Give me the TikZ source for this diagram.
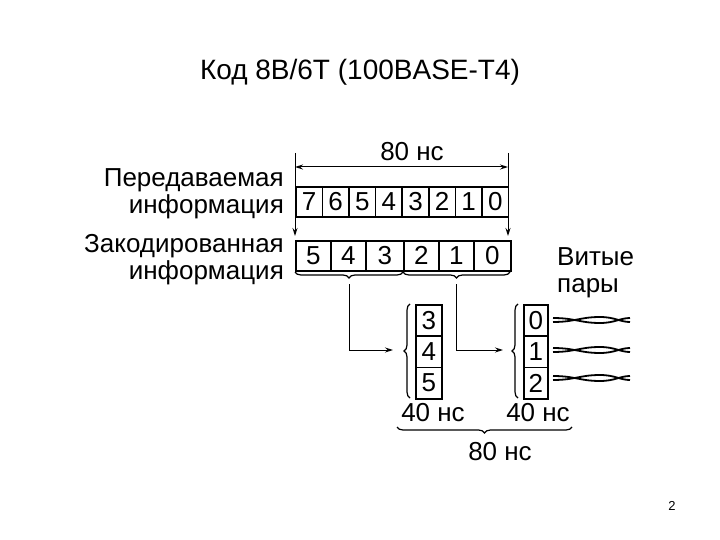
\documentclass[tikz,border=0pt]{standalone}
\usepackage{fontspec}
\setmainfont{Liberation Sans}
\usetikzlibrary{decorations.pathreplacing,arrows.meta}
\begin{document}
\begin{tikzpicture}[x=1pt,y=-1pt,
  lbl/.style={font=\fontsize{26}{27}\selectfont,inner sep=0pt},
  cell/.style={draw,line width=1.6pt,font=\fontsize{26}{27}\selectfont,inner sep=0pt,anchor=north west},
  brc/.style={decorate,decoration={brace,amplitude=6pt},line width=1.2pt},
  con/.style={line width=1pt,-{Stealth[length=8pt,width=5pt]}}]
\useasboundingbox (0,0) rectangle (720,540);
\node[font=\fontsize{28}{30}\selectfont] (title) at (360,72) {Код 8B/6T (100BASE-T4)};
\node[font=\fontsize{13}{15}\selectfont] (pg) at (672,506) {2};
% top row
\foreach \d [count=\i from 0] in {7,6,5,4,3,2,1,0}{
  \node[cell,minimum width=26.6pt,minimum height=30pt] (t\i) at (295+26.6*\i,186) {\d};}
% bottom row
\foreach \a/\b/\d [count=\i from 0] in {295/330/5,330/365/4,365/403/3,403/438/2,438/473/1,473/510/0}{
  \node[cell,minimum width=\b pt-\a pt,minimum height=30pt] (b\i) at (\a,240) {\d};}
% time marks
\coordinate (l1) at (295,153); \coordinate (l2) at (295,236);
\coordinate (r1) at (508,153); \coordinate (r2) at (508,236);
\draw[con] (l1) -- (l2);
\draw[con] (r1) -- (r2);
\draw[line width=1pt,{Stealth[length=8pt,width=5pt]}-{Stealth[length=8pt,width=5pt]}] (295,167) -- (508,167);
\node[lbl] (t80) at (412,152) {80 нс};
\node[lbl,align=right,anchor=east] (lab1) at (284,194) {Передаваемая\\информация};
\node[lbl,align=right,anchor=east] (lab2) at (284,260) {Закодированная\\информация};
\node[lbl,align=left,anchor=west] (lab3) at (557,273) {Витые\\пары};
% braces
\draw[brc] (403,272) -- (295,272) coordinate[midway] (bl);
\draw[brc] (510,272) -- (403,272) coordinate[midway] (br);
\coordinate (blt) at (349,284); \coordinate (brt) at (456,284);
% columns
\foreach \d [count=\i from 0] in {3,4,5}{
  \node[cell,minimum width=26pt,minimum height=31.3pt] (c\i) at (415,304+31.3*\i) {\d};}
\foreach \d [count=\i from 0] in {0,1,2}{
  \node[cell,minimum width=24pt,minimum height=31.3pt] (d\i) at (523,304+31.3*\i) {\d};}
\draw[brc] (410,398) -- (410,304);
\draw[brc] (518,398) -- (518,304);
\draw[con] (blt) |- (393,350);
\draw[con] (brt) |- (503,350);
% twisted pairs
\foreach \y in {320,350,378}{
  \draw[line width=1.8pt] (553,\y-2) .. controls (575,\y-2) and (580,\y+3) .. (600,\y+3) .. controls (615,\y+3) and (620,\y-2) .. (630,\y-2);
  \draw[line width=1.8pt] (553,\y+2) .. controls (575,\y+2) and (580,\y-3) .. (600,\y-3) .. controls (615,\y-3) and (620,\y+2) .. (630,\y+2);}
\node[lbl] (f1) at (433,413) {40 нс};
\node[lbl] (f2) at (538,413) {40 нс};
\draw[brc] (572,427) -- (397,427);
\node[lbl] (f3) at (500,452) {80 нс};
\end{tikzpicture}
\end{document}
